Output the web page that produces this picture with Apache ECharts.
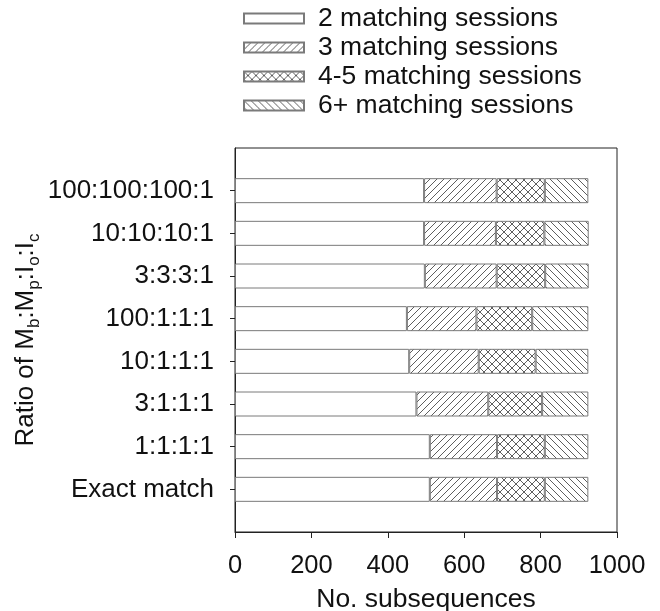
<!DOCTYPE html>
<html>
<head>
<meta charset="utf-8">
<script src="https://cdn.jsdelivr.net/npm/echarts@6/dist/echarts.min.js"></script>
<style>
html,body{margin:0;padding:0;background:#fff;}
#chart{width:660px;height:611px;}
</style>
</head>
<body>
<div id="chart"></div>
<script>
// Categories from bottom to top (blank padding slots at both ends)
const categories = ['', 'Exact match', '1:1:1:1', '3:1:1:1', '10:1:1:1', '100:1:1:1', '3:3:3:1', '10:10:10:1', '100:100:100:1', ''];
const seriesNames = ['2 matching sessions', '3 matching sessions', '4-5 matching sessions', '6+ matching sessions'];
const twoSessions  = [null, 510, 510, 475, 456, 450, 497, 495, 495, null];
const threeSessions = [null, 176, 176, 188, 182, 182, 188, 188, 190, null];
const fourFiveSessions = [null, 125, 125, 141, 149, 146, 127, 127, 126, null];
const sixPlusSessions = [null, 114, 114, 121, 138, 147, 114, 116, 114, null];
const xTicks = [0, 200, 400, 600, 800, 1000];

function hatch(type) {
  const s = type === 'x' ? 8 : 7;
  const c = document.createElement('canvas');
  c.width = s; c.height = s;
  const g = c.getContext('2d');
  g.fillStyle = '#fff';
  g.fillRect(0, 0, s, s);
  g.strokeStyle = '#5e5e5e';
  g.lineWidth = 1;
  g.beginPath();
  if (type === '/' || type === 'x') { g.moveTo(-1, s + 1); g.lineTo(s + 1, -1); }
  if (type === '\\' || type === 'x') { g.moveTo(-1, -1); g.lineTo(s + 1, s + 1); }
  g.stroke();
  return c;
}
const fills = [
  '#ffffff',
  { image: hatch('/'), repeat: 'repeat' },
  { image: hatch('x'), repeat: 'repeat' },
  { image: hatch('\\'), repeat: 'repeat' }
];
const dataSets = [twoSessions, threeSessions, fourFiveSessions, sixPlusSessions];
const FONT = '"Liberation Sans", Arial, sans-serif';

const chart = echarts.init(document.getElementById('chart'), null, { renderer: 'canvas' });
chart.setOption({
  animation: false,
  backgroundColor: '#fff',
  textStyle: { fontFamily: FONT, color: '#111' },
  legend: {
    orient: 'vertical',
    left: 243,
    top: 4,
    padding: 0,
    itemWidth: 60,
    itemHeight: 10,
    itemGap: 0,
    icon: 'rect',
    textStyle: { fontSize: 26.5, fontFamily: FONT, color: '#111', lineHeight: 29, padding: [0, 0, 0, 9] },
    data: seriesNames
  },
  grid: { left: 235, right: 43, top: 148, bottom: 79, containLabel: false, outerBoundsMode: 'none', show: true, borderColor: '#222', borderWidth: 1, backgroundColor: 'transparent' },
  xAxis: {
    type: 'value',
    min: 0, max: 1000, interval: 200,
    name: 'No. subsequences',
    nameLocation: 'middle',
    nameGap: 54,
    nameMoveOverlap: false,
    nameTextStyle: { fontSize: 26.5, fontFamily: FONT, color: '#111' },
    axisLine: { show: true, lineStyle: { color: '#222', width: 1 } },
    axisTick: { show: true, inside: false, length: 6, lineStyle: { color: '#222' } },
    axisLabel: { fontSize: 25.5, fontFamily: FONT, color: '#111', margin: 21, formatter: v => xTicks.includes(v) ? String(v) : '' },
    splitLine: { show: false }
  },
  yAxis: {
    type: 'category',
    data: categories,
    boundaryGap: false,
    name: '{a|Ratio of M}{s|b}{a|:M}{s|p}{a|:I}{s|o}{a|:I}{s|c}',
    nameLocation: 'middle',
    nameGap: 192,
    nameMoveOverlap: false,
    nameRotate: 90,
    nameTextStyle: {
      rich: {
        a: { fontSize: 26, fontFamily: FONT, color: '#111', lineHeight: 34 },
        s: { fontSize: 17, fontFamily: FONT, color: '#111', verticalAlign: 'bottom' }
      }
    },
    axisLine: { show: true, lineStyle: { color: '#222', width: 1 } },
    axisTick: { show: true, inside: false, length: 5, interval: (i, v) => v !== '', lineStyle: { color: '#222' } },
    axisLabel: { fontSize: 26, fontFamily: FONT, color: '#111', margin: 21, interval: 0 },
    splitLine: { show: false }
  },
  series: dataSets.map((d, i) => ({
    type: 'bar',
    name: seriesNames[i],
    stack: 'total',
    barWidth: 25,
    data: d,
    itemStyle: { color: fills[i], borderColor: '#7a7a7a', borderWidth: 1 }
  }))
});
</script>
</body>
</html>
